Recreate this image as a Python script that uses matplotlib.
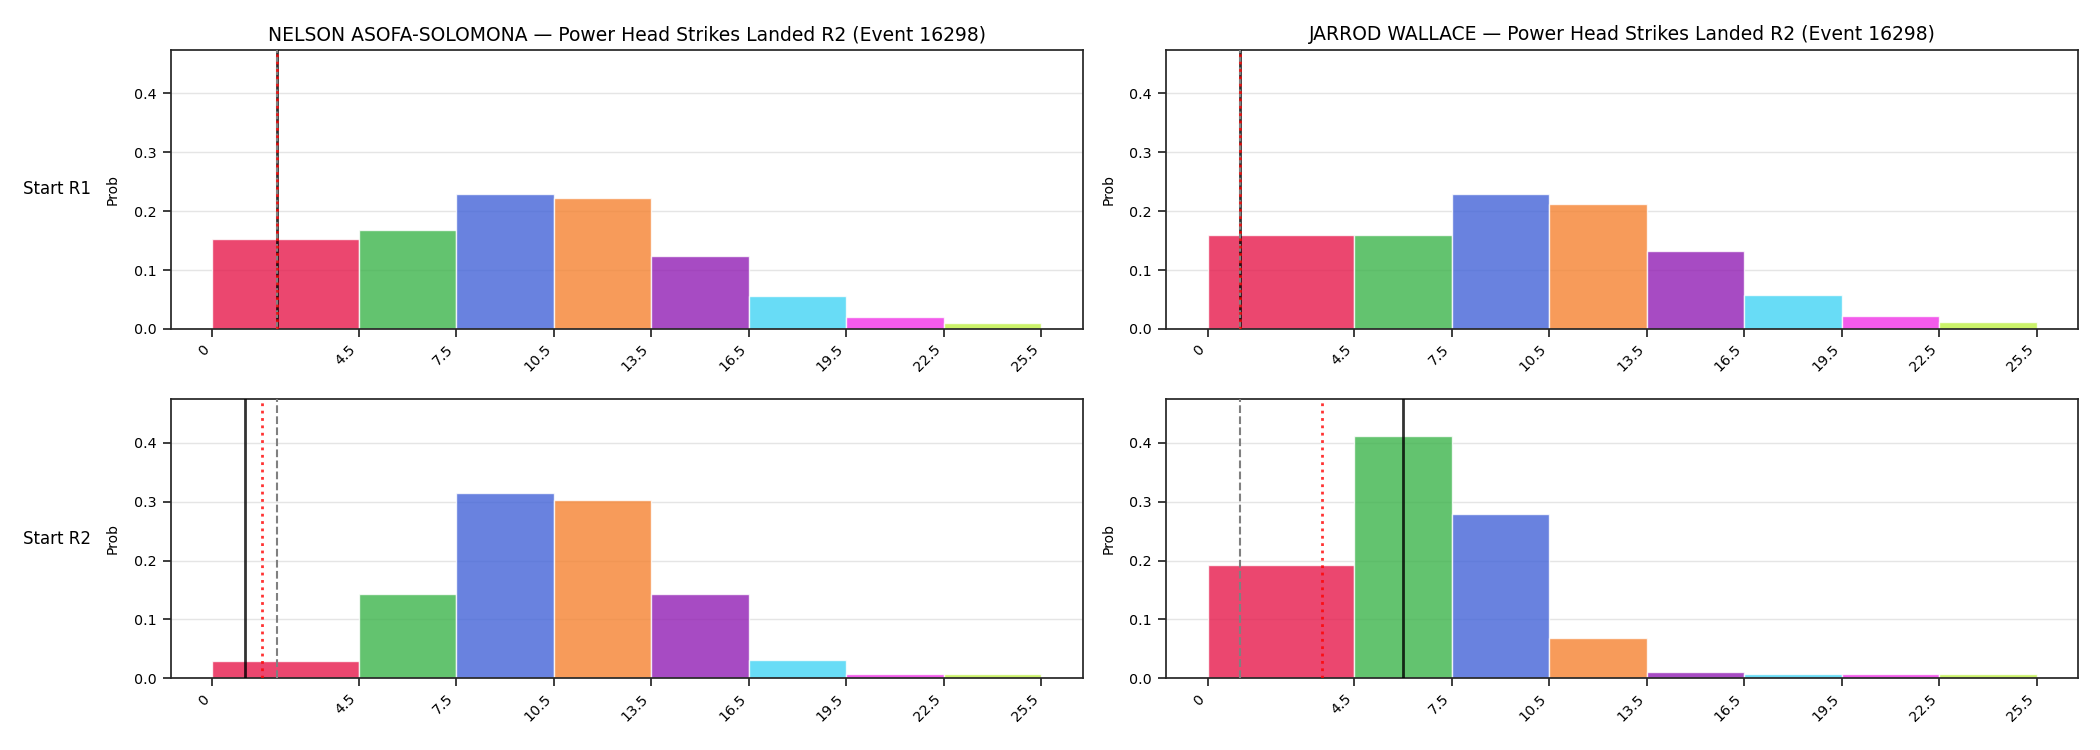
import numpy as np
import matplotlib
matplotlib.use("Agg")
import matplotlib.pyplot as plt

# ── data ─────────────────────────────────────────────────────────────────────
fighters = ["NELSON ASOFA-SOLOMONA", "JARROD WALLACE"]
rows = ["Start R1", "Start R2"]
stat_title = "Power Head Strikes Landed R2 (Event 16298)"

bin_edges = [0, 4.5, 7.5, 10.5, 13.5, 16.5, 19.5, 22.5, 25.5]
tick_labels = ["0", "4.5", "7.5", "10.5", "13.5", "16.5", "19.5", "22.5", "25.5"]

nelson_r1 = [0.153, 0.168, 0.230, 0.223, 0.124, 0.056, 0.020, 0.010]
wallace_r1 = [0.159, 0.160, 0.229, 0.213, 0.133, 0.058, 0.022, 0.012]
nelson_r2 = [0.030, 0.143, 0.315, 0.303, 0.143, 0.031, 0.008, 0.008]
wallace_r2 = [0.193, 0.412, 0.280, 0.068, 0.010, 0.008, 0.008, 0.008]

# vertical markers: (solid black, red dotted, grey dashed)
nelson_r1_marks = (2.0, 2.0, 2.0)
wallace_r1_marks = (1.0, 1.0, 1.0)
nelson_r2_marks = (1.0, 1.52, 2.0)
wallace_r2_marks = (6.0, 3.5, 1.0)

probs = [[nelson_r1, wallace_r1], [nelson_r2, wallace_r2]]
marks = [[nelson_r1_marks, wallace_r1_marks], [nelson_r2_marks, wallace_r2_marks]]

colors = ["#e6194b", "#3cb44b", "#4363d8", "#f58231", "#911eb4",
          "#42d4f4", "#f032e6", "#bfef45"]

_EDGE = "#262626"

# ── figure ───────────────────────────────────────────────────────────────────
fig, axes = plt.subplots(2, 2, figsize=(21, 7.5), dpi=100, sharey=True)
fig.subplots_adjust(left=0.0814, right=0.9895, top=0.9333, bottom=0.0956,
                    wspace=0.092, hspace=0.253)

edges = np.array(bin_edges)
widths = np.diff(edges)
ymax = max(max(p) for r in probs for p in r) * 1.15

for r in range(2):
    for c in range(2):
        ax = axes[r, c]
        ax.bar(edges[:-1], probs[r][c], width=widths, align="edge",
               color=colors, alpha=0.8, edgecolor="white", linewidth=1, zorder=2)
        solid, dotted, dashed = marks[r][c]
        ax.axvline(solid, color="black", lw=2, alpha=0.8, zorder=3)
        ax.axvline(dashed, color="grey", lw=1.5, ls="--", zorder=3)
        ax.axvline(dotted, color="red", lw=2, ls=":", alpha=0.8, zorder=4)

        ax.set_ylim(0, ymax)
        ax.set_yticks([0, 0.1, 0.2, 0.3, 0.4])
        ax.yaxis.set_tick_params(labelleft=True)
        ax.set_xticks(edges)
        ax.set_xticklabels(tick_labels, rotation=45, ha="right")
        ax.tick_params(labelsize=10.3, length=6, width=1.25, color=_EDGE)
        ax.tick_params(axis="y", pad=4.5)
        ax.grid(axis="y", color="#e5e5e5", lw=1, zorder=0)
        ax.set_axisbelow(True)
        for sp in ax.spines.values():
            sp.set_linewidth(1.25)
            sp.set_color(_EDGE)
        ax.set_ylabel("Prob", fontsize=10, labelpad=10)
        if r == 0:
            ax.set_title(f"{fighters[c]} — {stat_title}", fontsize=13.5, pad=7)

    pos = axes[r, 0].get_position()
    fig.text(0.011, (pos.y0 + pos.y1) / 2, rows[r], ha="left", va="center",
             fontsize=12)

fig.savefig("out.png", dpi=100)
